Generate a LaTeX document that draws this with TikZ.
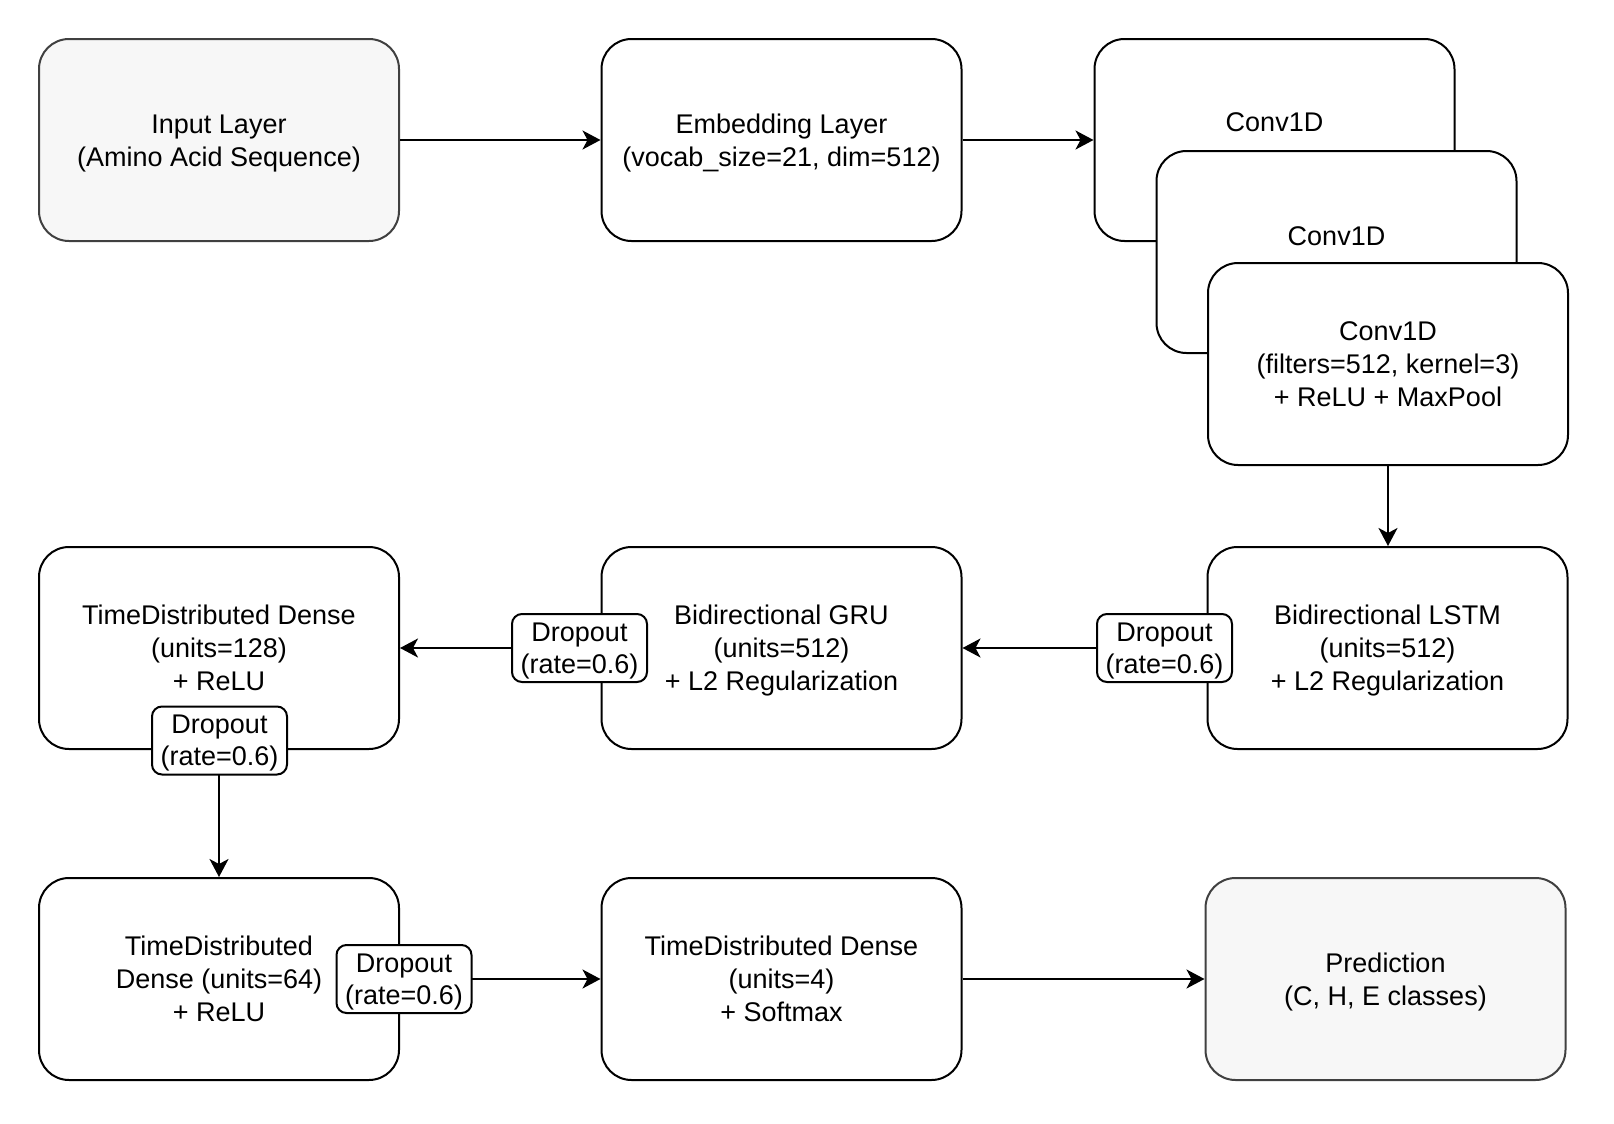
\documentclass[tikz,border=0pt]{standalone}
\usepackage{fontspec}
\setmainfont{Liberation Sans}
\usetikzlibrary{arrows.meta,calc}

\definecolor{softfill}{HTML}{F7F7F7}
\definecolor{softline}{HTML}{404040}

% invisible line strut: every text block gets full line boxes top and bottom
\newcommand{\linestrut}{\rule[-3.5pt]{0pt}{16.5pt}}
% layer caption: lines separated by \\, framed by struts so all blocks centre alike
\newcommand{\boxtext}[1]{\linestrut#1\linestrut}

% dropout caption, nudged down a little inside its box without changing the box
\newcommand{\droptext}{\raisebox{-1.5pt}[\height][\depth]{%
  \begin{tabular}{@{}c@{}}Dropout\\(rate=0.6)\end{tabular}}}

\tikzset{
  layer/.style={draw=black, line width=1pt, fill=white, rounded corners=15pt,
    minimum width=180pt, minimum height=101pt, inner sep=0pt, align=center,
    font=\fontsize{13.5pt}{16.5pt}\selectfont},
  endpoint/.style={layer, fill=softfill, draw=softline},
  droplabel/.style={draw=black, line width=1pt, fill=white, rounded corners=5pt,
    minimum width=67.5pt, minimum height=34pt, inner sep=0pt,
    font=\fontsize{13.5pt}{16pt}\selectfont},
  plain/.style={inner sep=0pt, font=\fontsize{13.5pt}{16.5pt}\selectfont},
  flow/.style={line width=1pt, -{Stealth[length=9pt, width=9.5pt, inset=2.5pt]}},
}

\begin{document}
\begin{tikzpicture}[x=0.5pt, y=-0.5pt]
  \useasboundingbox (0,0) rectangle (1614,1124);

  % top row
  \node[endpoint] (input) at (219,140) {\boxtext{Input Layer\\(Amino Acid Sequence)}};
  \node[layer] (emb) at (781.5,140) {\boxtext{Embedding Layer\\(vocab\_size=21, dim=512)}};

  % stacked convolution blocks
  \node[layer] (conv1) at (1274.5,140) {};
  \node[plain] (conv1txt) at (1274.5,122.5) {Conv1D};
  \node[layer] (conv2) at (1336.5,252) {};
  \node[plain] (conv2txt) at (1336.5,236) {Conv1D};
  \node[layer] (conv3) at (1388,364) {\boxtext{Conv1D\\(filters=512, kernel=3)\\+ ReLU + MaxPool}};

  % middle row
  \node[layer] (lstm) at (1387.5,648) {\boxtext{Bidirectional LSTM\\(units=512)\\+ L2 Regularization}};
  \node[layer] (gru) at (781.5,648) {\boxtext{Bidirectional GRU\\(units=512)\\+ L2 Regularization}};
  \node[layer] (td128) at (219,648) {\boxtext{TimeDistributed Dense\\(units=128)\\+ ReLU}};

  % bottom row
  \node[layer] (td64) at (219,979) {\boxtext{TimeDistributed\\Dense (units=64)\\+ ReLU}};
  \node[layer] (td4) at (781.5,979) {\boxtext{TimeDistributed Dense\\(units=4)\\+ Softmax}};
  \node[endpoint] (pred) at (1385.5,979) {\boxtext{Prediction\\(C, H, E classes)}};

  % connectors
  \draw[flow] (input.east) -- (emb.west);
  \draw[flow] (emb.east) -- (conv1.west);
  \draw[flow] (conv3.south) -- (conv3.south |- lstm.north);
  \draw[flow] (lstm.west) -- (gru.east);
  \draw[flow] (gru.west) -- (td128.east);
  \draw[flow] (td128.south) -- (td64.north);
  \draw[flow] (td64.east) -- (td4.west);
  \draw[flow] (td4.east) -- (pred.west);

  % dropout labels sitting on the connectors
  \node[droplabel] (drop1) at (1164.5,648) {\droptext};
  \node[droplabel] (drop2) at (579.5,648) {\droptext};
  \node[droplabel] (drop3) at (219.5,740.5) {\droptext};
  \node[droplabel] (drop4) at (404,979) {\droptext};
\end{tikzpicture}
\end{document}
